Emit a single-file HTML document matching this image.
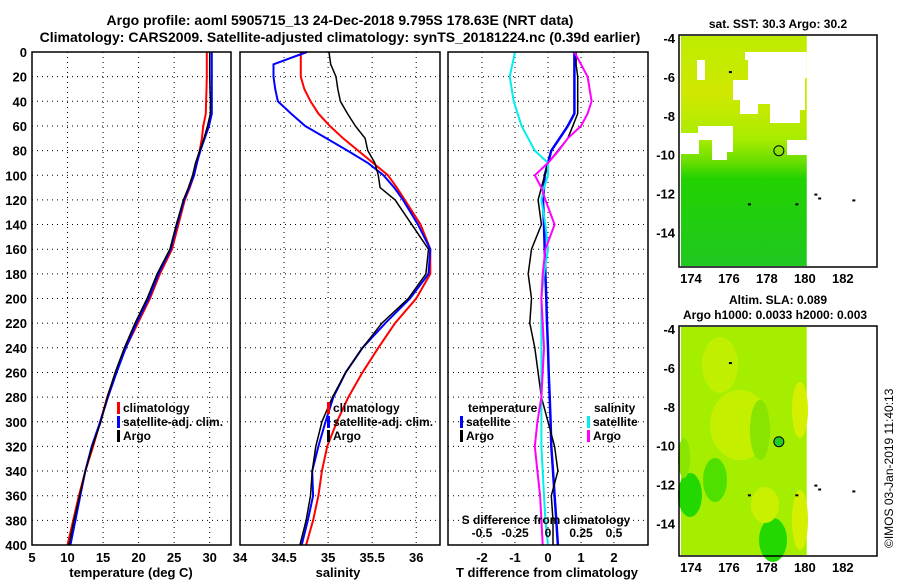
<!DOCTYPE html>
<html><head><meta charset="utf-8">
<style>
body{margin:0;background:#fff;}
svg{display:block;font-family:"Liberation Sans",sans-serif;font-weight:bold;}
</style></head>
<body>
<svg id="c" width="900" height="580" viewBox="0 0 900 580" xmlns="http://www.w3.org/2000/svg">
<text x="340" y="25" font-size="14" text-anchor="middle">Argo profile: aoml 5905715_13 24-Dec-2018 9.795S 178.63E (NRT data)</text>
<text x="340" y="42" font-size="14" text-anchor="middle">Climatology: CARS2009. Satellite-adjusted climatology: synTS_20181224.nc (0.39d earlier)</text>
<g id="g1"></g><g id="g2"></g><g id="g3"></g><g id="m1"></g><g id="m2"></g>
<text x="893" y="548" font-size="12" font-weight="normal" transform="rotate(-90 893 548)">©IMOS 03-Jan-2019 11:40:13</text>
</svg>
<script>
const NS="http://www.w3.org/2000/svg";
const tDepth=[0,10,20,30,40,50,60,70,80,90,100,110,120,140,160,180,200,220,240,260,280,300,320,340,360,380,400];
const tClim=[29.6,29.6,29.6,29.55,29.5,29.45,29.1,28.9,28.6,28.2,27.8,27.2,26.5,25.6,24.7,23.0,21.6,19.9,18.2,16.8,15.6,14.6,13.6,12.5,11.6,10.8,10.0];
const tSat=[30.3,30.3,30.3,30.3,30.3,30.3,29.9,29.3,28.7,28.2,27.8,27.1,26.4,25.4,24.5,22.8,21.4,19.7,18.2,16.9,15.7,14.6,13.4,12.5,11.8,11.1,10.4];
const tArgo=[30.0,30.0,30.0,30.05,30.1,30.1,29.7,29.2,28.6,28.0,27.6,27.0,26.3,25.3,24.4,22.6,21.2,19.5,18.0,16.7,15.6,14.7,13.5,12.5,11.7,10.9,10.2];
const sDepth=[0,10,20,30,40,50,60,70,80,90,100,110,120,140,160,180,200,220,240,260,280,300,320,340,360,380,400];
const sClim=[34.69,34.69,34.69,34.73,34.8,34.89,35.02,35.17,35.34,35.51,35.68,35.78,35.87,36.05,36.16,36.16,36.0,35.76,35.57,35.39,35.23,35.1,34.99,34.93,34.89,34.83,34.75];
const sSat=[34.76,34.38,34.38,34.4,34.43,34.58,34.74,34.98,35.22,35.45,35.63,35.75,35.85,36.02,36.16,36.14,35.93,35.65,35.39,35.2,35.06,34.97,34.89,34.82,34.83,34.77,34.7];
const sArgo=[35.01,35.03,35.09,35.11,35.14,35.22,35.31,35.42,35.45,35.53,35.57,35.59,35.76,35.95,36.14,36.11,35.91,35.61,35.39,35.2,35.05,34.93,34.86,34.82,34.8,34.75,34.68];
const dDepth=[0,10,20,40,50,60,70,80,90,100,110,120,140,160,180,200,220,240,260,280,300,320,340,360,380,400];
const dTSat=[0.8,0.8,0.8,0.8,0.8,0.6,0.35,0.1,0.0,-0.1,-0.12,-0.15,-0.12,-0.1,-0.08,-0.05,-0.03,0,0.02,0.05,0.08,0.1,0.15,0.2,0.25,0.3];
const dTArgo=[0.85,0.85,0.9,0.9,0.9,0.75,0.6,0.3,0.0,-0.1,-0.2,-0.3,-0.2,-0.5,-0.6,-0.5,-0.55,-0.4,-0.3,-0.2,0.0,0.2,0.3,0.1,0.15,0.15];
const dSSat=[-0.25,-0.27,-0.29,-0.26,-0.23,-0.2,-0.15,-0.1,0.0,0.0,-0.03,-0.05,-0.02,0.0,-0.03,-0.05,-0.05,-0.05,-0.05,-0.05,-0.05,-0.05,-0.04,-0.03,-0.02,0.0];
const dSArgo=[0.2,0.25,0.3,0.33,0.3,0.25,0.15,0.08,0.0,-0.1,-0.05,-0.02,0.05,-0.02,-0.04,-0.05,-0.04,-0.03,-0.04,-0.05,-0.08,-0.1,-0.08,-0.06,-0.05,-0.04];
const depthTicks=[0,20,40,60,80,100,120,140,160,180,200,220,240,260,280,300,320,340,360,380,400];
const tTicks=[5,10,15,20,25,30];
const sTicks=[34,34.5,35,35.5,36];
const dTTicks=[-2,-1,0,1,2];
const dSTicks=["-0.5","-0.25","0","0.25","0.5"];
const lonTicks=[174,176,178,180,182];
const latTicks=[-4,-6,-8,-10,-12,-14];

function el(p,tag,a,txt){const e=document.createElementNS(NS,tag);for(const k in a)e.setAttribute(k,a[k]);if(txt!=null)e.textContent=txt;p.appendChild(e);return e;}
const Y0=52,Y1=545;
const yD=d=>Y0+d*(Y1-Y0)/400;

function panel(g,x0,x1,xmin,xmax,xticks,xlab,showY,name){
  const xs=v=>x0+(v-xmin)*(x1-x0)/(xmax-xmin);
  xticks.forEach(t=>{const x=xs(+t);if(x>x0+1&&x<x1-1){const l=el(g,'line',{x1:x,x2:x,y1:Y0,y2:Y1,stroke:'#000','stroke-dasharray':'1,4','stroke-width':1});
  }});
  depthTicks.forEach(d=>{const y=yD(d);if(d>0&&d<400){const l=el(g,'line',{x1:x0,x2:x1,y1:y,y2:y,stroke:'#000','stroke-dasharray':'1,4','stroke-width':1});
  }
  if(showY){const t=el(g,'text',{x:x0-5,y:y+5,'font-size':13,'text-anchor':'end'},d);
  }});
  return xs;
}
function line(g,xs,vals,deps,col,w,name){
  const pts=vals.map((v,i)=>xs(v).toFixed(1)+','+yD(deps[i]).toFixed(1)).join(' ');
  const p=el(g,'polyline',{points:pts,fill:'none',stroke:col,'stroke-width':w});
  
}
function box(g,x0,x1,name){const r=el(g,'rect',{x:x0,y:Y0,width:x1-x0,height:Y1-Y0,fill:'none',stroke:'#000','stroke-width':1.5});
}
function legend(g,x,y,items){items.forEach((it,i)=>{const r=el(g,'rect',{x:x,y:y+i*14-10,width:3,height:12,fill:it[1]});

const t=el(g,'text',{x:x+6,y:y+i*14,'font-size':12},it[0]);});}

// panel 1
const g1=document.getElementById('g1');
const xs1=panel(g1,32,231,5,33,tTicks,'',true,'temperature');
line(g1,xs1,tClim,tDepth,'#f00',2,'temperature-climatology-line');
line(g1,xs1,tSat,tDepth,'#00f',2,'temperature-satellite-line');
line(g1,xs1,tArgo,tDepth,'#000',1.5,'temperature-argo-line');
box(g1,32,231,'temperature-axes');
tTicks.forEach(t=>{const e=el(g1,'text',{x:xs1(t),y:562,'font-size':13,'text-anchor':'middle'},t);});
el(g1,'text',{x:131,y:577,'font-size':13,'text-anchor':'middle',},'temperature (deg C)');
legend(g1,117,412,[['climatology','#f00'],['satellite-adj. clim.','#00f'],['Argo','#000']]);

// panel 2
const g2=document.getElementById('g2');
const xs2=panel(g2,240,440,34,36.27,sTicks,'',false,'salinity');
line(g2,xs2,sClim,sDepth,'#f00',2,'salinity-climatology-line');
line(g2,xs2,sSat,sDepth,'#00f',2,'salinity-satellite-line');
line(g2,xs2,sArgo,sDepth,'#000',1.5,'salinity-argo-line');
box(g2,240,440,'salinity-axes');
sTicks.forEach(t=>{const e=el(g2,'text',{x:xs2(t),y:562,'font-size':13,'text-anchor':'middle'},t);});
el(g2,'text',{x:338,y:577,'font-size':13,'text-anchor':'middle',},'salinity');
legend(g2,327,412,[['climatology','#f00'],['satellite-adj. clim.','#00f'],['Argo','#000']]);

// panel 3
const g3=document.getElementById('g3');
const xs3=panel(g3,448,648,-3.03,3.03,dTTicks,'',false,'difference');
const xsS=v=>xs3(v*4);
line(g3,xs3,dTSat,dDepth,'#00f',2.5,'tdiff-satellite-line');
line(g3,xs3,dTArgo,dDepth,'#000',1.5,'tdiff-argo-line');
line(g3,xsS,dSSat,dDepth,'#0ee',2,'sdiff-satellite-line');
line(g3,xsS,dSArgo,dDepth,'#f0f',2,'sdiff-argo-line');
box(g3,448,648,'difference-axes');
dTTicks.forEach(t=>{const e=el(g3,'text',{x:xs3(t),y:562,'font-size':13,'text-anchor':'middle'},t);});
dSTicks.forEach(t=>{const e=el(g3,'text',{x:xsS(+t),y:537,'font-size':12,'text-anchor':'middle'},t);});
el(g3,'text',{x:546,y:524,'font-size':12,'text-anchor':'middle',},'S difference from climatology');
el(g3,'text',{x:547,y:577,'font-size':13,'text-anchor':'middle',},'T difference from climatology');
el(g3,'text',{x:468,y:412,'font-size':12,},'temperature');
legend(g3,460,426,[['satellite','#00f'],['Argo','#000']]);
el(g3,'text',{x:594,y:412,'font-size':12,},'salinity');
legend(g3,587,426,[['satellite','#0ee'],['Argo','#f0f']]);

// maps
function map(g,top,bottom,title1,title2,kind){
  const x0=679,x1=877,lonmin=173.37,lonmax=183.8;
  const lx=v=>x0+(v-lonmin)*(x1-x0)/(lonmax-lonmin);
  const ly=v=>top+3+(-4-v)*19.45;
  const dx1=lx(180.1);
  if(kind==='sst'){
    const gr=el(g,'defs',{});
    const lg=el(gr,'linearGradient',{id:'sstg',x1:0,y1:0,x2:0,y2:1});
    el(lg,'stop',{offset:'0','stop-color':'#bdec00'});
    el(lg,'stop',{offset:'0.25','stop-color':'#d0e800'});
    el(lg,'stop',{offset:'0.45','stop-color':'#a8ec00'});
    el(lg,'stop',{offset:'0.55','stop-color':'#66dd00'});
    el(lg,'stop',{offset:'0.62','stop-color':'#22d200'});
    el(lg,'stop',{offset:'1','stop-color':'#20c820'});
    el(g,'rect',{x:681,y:top+1,width:dx1-681,height:bottom-top-2,fill:'url(#sstg)',});
    el(g,'polygon',{points:`745,52 ${dx1},52 ${dx1},78 805,78 805,110 800,110 800,123 770,123 770,104 758,104 758,114 740,114 740,100 733,100 733,80 748,80 748,60 745,60`,fill:'#fff',});
    el(g,'polygon',{points:`715,126 733,126 733,152 727,152 727,160 712,160 712,140 681,140 681,133 698,133 698,126`,fill:'#fff',});
    el(g,'rect',{x:681,y:140,width:18,height:14,fill:'#fff'});
    el(g,'rect',{x:697,y:60,width:8,height:20,fill:'#fff'});
    el(g,'rect',{x:787,y:140,width:20,height:15,fill:'#fff'});
  } else {
    el(g,'rect',{x:681,y:top+1,width:dx1-681,height:bottom-top-2,fill:'#a6ee00',});
    [[690,495,12,22,'#22d800'],[715,480,12,22,'#50e000'],[773,540,14,22,'#22d800'],[740,425,30,35,'#c4f000'],[800,410,8,28,'#d4f000'],[800,520,8,30,'#d4f000'],[720,365,18,28,'#c0f000'],[765,505,14,18,'#c8f000'],[684,458,6,20,'#88e400'],[760,430,10,30,'#88e400']].forEach(b=>{
      const e=el(g,'ellipse',{cx:b[0],cy:b[1],rx:b[2],ry:b[3],fill:b[4]});});
  }
  el(g,'rect',{x:x0,y:top,width:x1-x0,height:bottom-top,fill:'none',stroke:'#000','stroke-width':1.5,});
  lonTicks.forEach(t=>{const e=el(g,'text',{x:lx(t),y:bottom+16,'font-size':13,'text-anchor':'middle'},t);});
  latTicks.forEach(t=>{const e=el(g,'text',{x:675,y:ly(t)+5,'font-size':13,'text-anchor':'end'},t);});
  const c=el(g,'circle',{cx:lx(178.63),cy:ly(-9.795),r:5,fill:kind==='sst'?'none':'#22cc22',stroke:'#000'});
  
  [[180.5,-12],[180.7,-12.2],[182.5,-12.3],[177,-12.5],[179.5,-12.5],[176,-5.7]].forEach(p=>{el(g,'rect',{x:lx(p[0]),y:ly(p[1]),width:3,height:2,fill:'#000'});});
  el(g,'text',{x:778,y:top-7-(title2?15:0),'font-size':12,'text-anchor':'middle',},title1);
  if(title2)el(g,'text',{x:775,y:top-7,'font-size':12,'text-anchor':'middle',},title2);
}
map(document.getElementById('m1'),35,267,'sat. SST: 30.3 Argo: 30.2',null,'sst');
map(document.getElementById('m2'),326,556,'Altim. SLA: 0.089','Argo h1000: 0.0033 h2000: 0.003','sla');
</script>
</body></html>
